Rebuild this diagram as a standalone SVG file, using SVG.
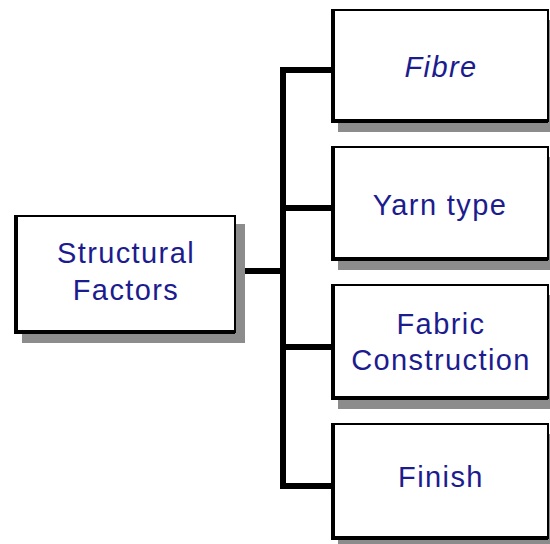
<svg xmlns="http://www.w3.org/2000/svg" width="550" height="544" viewBox="0 0 550 544">
<style>
.shadow{fill:#8c8c8c}
.box{fill:#fff;stroke:#000;stroke-width:2}
.edge{stroke:#000;stroke-width:4;fill:none}
.lbl{font-family:"Liberation Sans",Arial,sans-serif;font-size:29px;fill:#1c1c8e;text-anchor:middle;letter-spacing:1.4px}
.conn{stroke:#000;stroke-width:6;fill:none;stroke-linecap:square}
</style>
<rect width="550" height="544" fill="#fff"/>
<g id="connectors">
<path class="conn" d="M246 271H283M283 70V486M283 70H332M283 208H332M283 347H332M283 486H332"/>
</g>
<g id="structural">
<rect class="shadow" x="22" y="224" width="223" height="119"/>
<rect class="box" x="15" y="216" width="220" height="116"/>
<path class="edge" d="M16 216V332H235"/>
<text class="lbl" x="126" y="263">Structural</text>
<text class="lbl" x="126" y="300">Factors</text>
</g>
<g id="fibre">
<rect class="shadow" x="338" y="20" width="220" height="112"/>
<rect class="box" x="332" y="10" width="216" height="111"/>
<path class="edge" d="M333 10V121H548"/>
<text class="lbl" x="441" y="77" font-style="italic">Fibre</text>
</g>
<g id="yarn">
<rect class="shadow" x="338" y="157" width="220" height="113"/>
<rect class="box" x="332" y="147" width="216" height="112"/>
<path class="edge" d="M333 147V259H548"/>
<text class="lbl" x="440" y="215">Yarn type</text>
</g>
<g id="fabric">
<rect class="shadow" x="338" y="295" width="220" height="114"/>
<rect class="box" x="332" y="285" width="216" height="113"/>
<path class="edge" d="M333 285V398H548"/>
<text class="lbl" x="441" y="334">Fabric</text>
<text class="lbl" x="441" y="370">Construction</text>
</g>
<g id="finish">
<rect class="shadow" x="338" y="434" width="220" height="115"/>
<rect class="box" x="332" y="424" width="216" height="114"/>
<path class="edge" d="M333 424V538H548"/>
<text class="lbl" x="441" y="487">Finish</text>
</g>
</svg>
